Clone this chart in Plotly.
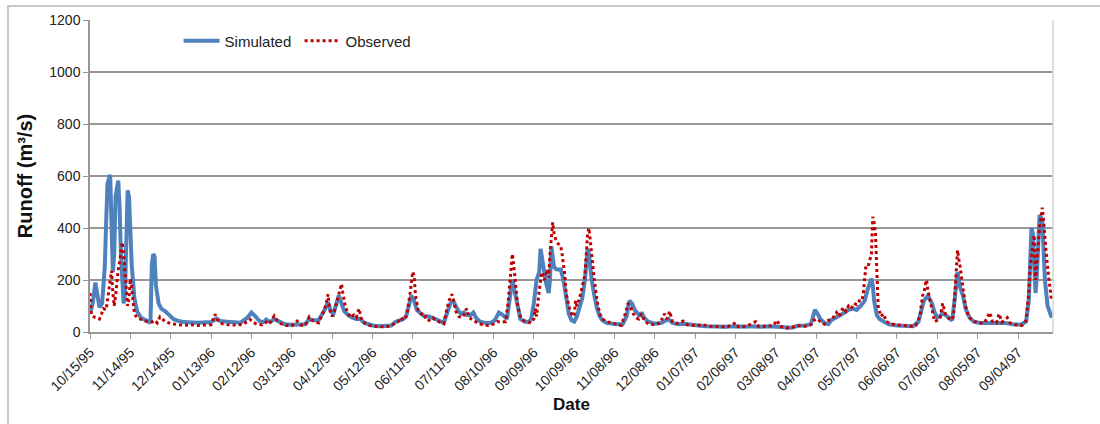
import pandas as pd
import plotly.graph_objects as go

# Daily runoff, Oct 1995 - Sep 1997. Days are counted from the first date.
START = "1995-10-15"
END = "1997-09-30"

sim_day = [0, 2, 4, 5, 7, 9, 11, 12, 13, 15, 16, 17, 18, 19, 21, 22, 23, 24, 25, 26, 27, 28, 29, 30, 31,
           33, 35, 38, 41, 44, 45, 46, 47, 48, 49, 51, 53, 56, 59, 62, 66, 70, 80, 90, 94, 97, 105, 112,
           117, 120, 123, 126, 129, 131, 134, 137, 140, 145, 150, 155, 160, 163, 166, 170, 173, 175, 177,
           179, 181, 183, 185, 187, 189, 192, 195, 198, 201, 204, 210, 215, 220, 224, 227, 230, 233, 235,
           237, 239, 241, 243, 246, 249, 252, 255, 259, 263, 266, 268, 270, 272, 274, 276, 278, 280, 283,
           285, 287, 290, 294, 298, 301, 304, 307, 310, 312, 313, 314, 316, 318, 320, 323, 326, 328, 330,
           332, 334, 335, 337, 339, 341, 342, 343, 345, 347, 350, 352, 354, 356, 358, 360, 362, 364, 366,
           368, 370, 371, 373, 375, 377, 379, 381, 384, 388, 392, 396, 399, 401, 403, 405, 407, 409, 410,
           412, 415, 420, 425, 430, 433, 438, 442, 446, 452, 458, 465, 472, 480, 486, 492, 498, 505, 512,
           518, 522, 526, 532, 536, 539, 541, 543, 546, 549, 551, 555, 558, 561, 564, 567, 570, 573, 576,
           578, 580, 581, 582, 583, 585, 587, 590, 594, 600, 606, 612, 616, 618, 620, 623, 626, 628, 630,
           632, 634, 636, 639, 641, 643, 645, 647, 649, 651, 654, 657, 662, 668, 674, 680, 686, 692, 696,
           698, 700, 701, 702, 703, 704, 705, 706, 708, 709, 710, 712, 714, 715]
sim_val = [70, 110, 190, 160, 95, 110, 250, 420, 570, 605, 420, 230, 300, 520, 582, 480, 300, 200, 110, 150,
           420, 545, 520, 400, 260, 130, 80, 55, 45, 38, 45, 260, 300, 290, 180, 110, 90, 80, 65, 50, 42,
           38, 36, 38, 52, 42, 38, 36, 55, 75, 60, 42, 38, 48, 38, 50, 42, 30, 28, 28, 30, 50, 45, 45, 70,
           90, 115, 80, 70, 100, 140, 110, 80, 65, 55, 50, 50, 35, 25, 22, 22, 25, 38, 45, 50, 60, 100, 140,
           120, 85, 70, 60, 60, 55, 45, 35, 80, 110, 120, 95, 80, 70, 75, 65, 65, 75, 55, 40, 35, 35, 45,
           75, 65, 50, 120, 180, 200, 150, 90, 50, 40, 38, 50, 110, 200, 230, 320, 250, 190, 150, 200, 330,
           250, 240, 240, 200, 130, 70, 45, 40, 60, 90, 130, 200, 320, 300, 200, 140, 90, 60, 45, 35, 32,
           30, 30, 60, 120, 110, 85, 70, 60, 75, 55, 40, 32, 35, 50, 35, 30, 32, 28, 25, 22, 20, 20, 22, 20,
           22, 20, 22, 20, 15, 16, 24, 25, 30, 85, 70, 50, 35, 30, 45, 55, 65, 75, 85, 90, 85, 100, 120,
           160, 200, 205, 180, 120, 65, 50, 40, 30, 25, 22, 22, 40, 80, 120, 140, 110, 75, 55, 60, 75, 65,
           55, 45, 130, 230, 170, 140, 90, 55, 40, 35, 35, 35, 35, 30, 28, 40, 120, 400, 380, 260, 150,
           220, 350, 450, 430, 320, 200, 100, 70, 55]

obs_day = [0, 1, 3, 5, 7, 8, 10, 12, 13, 14, 15, 16, 17, 18, 19, 20, 21, 22, 23, 24, 25, 26, 27, 28, 29,
           30, 31, 32, 33, 35, 38, 41, 44, 46, 48, 50, 52, 54, 56, 60, 65, 70, 75, 80, 85, 90, 93, 95, 98,
           103, 108, 113, 117, 119, 121, 124, 128, 131, 133, 137, 139, 142, 146, 150, 154, 157, 160, 163,
           165, 168, 170, 172, 174, 176, 177, 178, 180, 182, 184, 186, 187, 188, 190, 192, 194, 196, 198,
           200, 202, 205, 208, 212, 218, 223, 226, 229, 231, 233, 235, 236, 238, 239, 240, 241, 242, 244,
           246, 248, 250, 252, 255, 257, 260, 263, 265, 267, 269, 270, 272, 274, 276, 278, 280, 282, 285,
           288, 292, 296, 300, 303, 306, 309, 311, 313, 314, 315, 317, 318, 320, 322, 325, 328, 330, 331,
           332, 333, 334, 336, 338, 340, 341, 342, 343, 344, 345, 346, 348, 350, 351, 353, 354, 356, 358,
           360, 361, 362, 364, 366, 368, 369, 370, 371, 372, 373, 375, 377, 379, 381, 384, 388, 392, 395,
           398, 400, 402, 404, 406, 408, 410, 412, 415, 420, 424, 427, 429, 431, 433, 436, 441, 444, 450,
           456, 460, 466, 474, 480, 482, 488, 495, 497, 503, 508, 511, 513, 518, 522, 526, 532, 536, 538,
           541, 543, 546, 549, 552, 555, 557, 560, 562, 564, 566, 568, 570, 572, 574, 575, 576, 577, 579,
           580, 581, 582, 583, 584, 585, 586, 588, 590, 592, 596, 600, 605, 610, 614, 617, 619, 620, 621,
           622, 623, 625, 627, 628, 630, 632, 634, 636, 638, 640, 642, 643, 644, 645, 646, 647, 649, 651,
           653, 656, 660, 665, 669, 671, 674, 676, 678, 682, 684, 688, 693, 696, 697, 698, 699, 700, 701,
           702, 703, 704, 705, 706, 707, 708, 709, 710, 711, 713, 714, 715]
obs_val = [150, 65, 58, 55, 50, 60, 90, 85, 120, 150, 200, 235, 150, 100, 140, 200, 240, 270, 310, 345, 300,
           230, 160, 100, 130, 205, 170, 110, 70, 55, 48, 42, 40, 38, 45, 35, 58, 50, 40, 32, 28, 26, 28,
           25, 27, 28, 68, 45, 32, 28, 27, 28, 40, 48, 38, 30, 28, 38, 30, 62, 45, 32, 25, 24, 42, 26, 25,
           58, 45, 38, 35, 60, 80, 120, 145, 90, 60, 85, 130, 165, 185, 150, 95, 70, 55, 65, 55, 90, 45,
           32, 25, 22, 20, 22, 30, 40, 55, 45, 60, 80, 150, 200, 232, 215, 140, 85, 75, 55, 60, 45, 55, 45,
           40, 32, 80, 120, 145, 130, 80, 60, 55, 65, 90, 55, 45, 35, 28, 25, 30, 40, 38, 40, 120, 230,
           300, 260, 160, 100, 60, 45, 40, 35, 50, 90, 60, 120, 160, 230, 200, 240, 210, 300, 370, 422,
           380, 360, 340, 330, 300, 220, 150, 100, 70, 60, 120, 100, 130, 170, 220, 300, 380, 400, 350,
           280, 200, 120, 70, 50, 40, 35, 28, 25, 70, 110, 95, 70, 55, 50, 70, 45, 32, 28, 35, 70, 50, 80,
           40, 32, 42, 28, 25, 28, 22, 20, 20, 35, 20, 22, 40, 22, 22, 25, 45, 22, 15, 18, 25, 22, 28, 45,
           50, 40, 30, 45, 50, 75, 60, 95, 80, 100, 90, 110, 105, 120, 120, 150, 200, 260, 260, 280, 300,
           443, 420, 380, 250, 100, 60, 70, 40, 30, 28, 25, 22, 25, 60, 140, 150, 180, 200, 160, 110, 60,
           40, 45, 55, 110, 70, 55, 45, 60, 150, 250, 315, 280, 250, 170, 100, 60, 45, 35, 35, 75, 40, 35,
           70, 38, 55, 35, 28, 25, 45, 100, 150, 250, 300, 330, 373, 200, 280, 330, 400, 440, 478, 430,
           350, 300, 200, 150, 120]

tick_labels = ["10/15/95", "11/14/95", "12/14/95", "01/13/96", "02/12/96", "03/13/96", "04/12/96",
               "05/12/96", "06/11/96", "07/11/96", "08/10/96", "09/09/96", "10/09/96", "11/08/96",
               "12/08/96", "01/07/97", "02/06/97", "03/08/97", "04/07/97", "05/07/97", "06/06/97",
               "07/06/97", "08/05/97", "09/04/97"]

start = pd.Timestamp(START)
sim_x = start + pd.to_timedelta(sim_day, unit="D")
obs_x = start + pd.to_timedelta(obs_day, unit="D")
tick_x = pd.to_datetime(tick_labels, format="%m/%d/%y")

FONT = "Liberation Sans, Arial, sans-serif"
GRID = "#979797"

fig = go.Figure()
fig.add_trace(go.Scatter(x=sim_x, y=sim_val, mode="lines", name="Simulated",
                         line=dict(color="#4F81BD", width=4)))
fig.add_trace(go.Scatter(x=obs_x, y=obs_val, mode="lines", name="Observed",
                         line=dict(color="#C00000", width=3, dash="dot")))

fig.update_layout(
    width=1100, height=424,
    margin=dict(l=90, r=47, t=20, b=92),
    paper_bgcolor="white", plot_bgcolor="white",
    font=dict(family=FONT, size=14, color="#222222"),
    showlegend=True,
    legend=dict(orientation="h", x=0.092, y=0.933, xanchor="left", yanchor="middle",
                bgcolor="rgba(0,0,0,0)", font=dict(family=FONT, size=15, color="#222222"),
                entrywidth=70, entrywidthmode="pixels", itemwidth=36),
    shapes=[
        # outer chart frame
        dict(type="rect", xref="paper", yref="paper",
             x0=(8 - 90) / 963, x1=1.2, y0=-0.6, y1=(332 - 6) / 312,
             line=dict(color="#C8C8C8", width=2), layer="below"),
        # right edge of the plot area
        dict(type="line", xref="paper", yref="paper", x0=1, x1=1, y0=0, y1=1,
             line=dict(color="#D4D4D4", width=1.5)),
    ],
)

fig.update_xaxes(
    type="date", range=[START, END],
    tickmode="array", tickvals=tick_x, ticktext=tick_labels,
    tickangle=-45, tickfont=dict(family=FONT, size=14),
    showgrid=False, showline=True, linecolor=GRID, linewidth=1.5,
    ticks="outside", ticklen=5, tickcolor=GRID,
    title=dict(text="<b>Date</b>", font=dict(family=FONT, size=17, color="#111111"), standoff=5),
)
fig.update_yaxes(
    range=[0, 1200], dtick=200, tick0=0,
    showgrid=True, gridcolor=GRID, gridwidth=1.5, zeroline=False,
    showline=True, linecolor=GRID, linewidth=1.5,
    ticks="outside", ticklen=5, tickcolor=GRID, tickfont=dict(family=FONT, size=14),
    title=dict(text="<b>Runoff (m³/s)</b>", font=dict(family=FONT, size=20, color="#111111"), standoff=11),
)

fig.write_html("out.html")
